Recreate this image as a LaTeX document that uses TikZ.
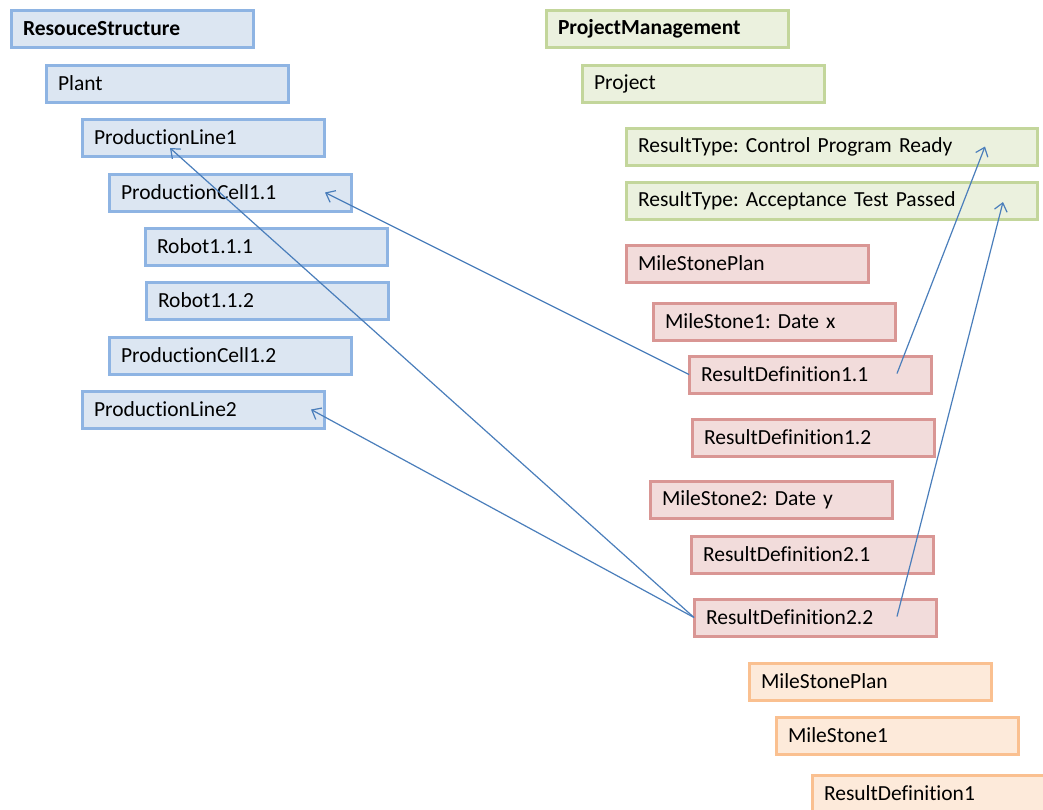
\documentclass[tikz,border=0pt]{standalone}
\usepackage{fontspec}
\setmainfont{Carlito}[Ligatures=CommonOff]
\usetikzlibrary{arrows.meta}
\frenchspacing
\definecolor{blueFill}{HTML}{DCE6F2}
\definecolor{blueLine}{HTML}{8EB4E3}
\definecolor{greenFill}{HTML}{EBF1DE}
\definecolor{greenLine}{HTML}{C3D69B}
\definecolor{redFill}{HTML}{F2DCDB}
\definecolor{redLine}{HTML}{D99694}
\definecolor{orangeFill}{HTML}{FDEADA}
\definecolor{orangeLine}{HTML}{FAC090}
\definecolor{linkBlue}{HTML}{4A7EBB}
\tikzset{
  item/.style={rectangle, line width=3pt, outer sep=0pt, anchor=north west,
    inner xsep=12pt, inner ysep=0pt, text width=#1-24pt, align=left,
    minimum height=37pt, font=\fontsize{21.5pt}{26pt}\selectfont},
  item/.default=242pt,
  res/.style={item=#1, draw=blueLine, fill=blueFill},
  res/.default=242pt,
  prj/.style={item=#1, draw=greenLine, fill=greenFill},
  prj/.default=242pt,
  msp/.style={item=#1, draw=redLine, fill=redFill},
  msp/.default=242pt,
  ora/.style={item=#1, draw=orangeLine, fill=orangeFill},
  ora/.default=242pt,
  link/.style={draw=linkBlue, line width=1.2pt, -{Straight Barb[length=8pt,width=13pt]}}
}
\begin{document}
\begin{tikzpicture}[x=1pt,y=-1pt]
\useasboundingbox (0,0) rectangle (1043,809);
\clip (0,0) rectangle (1043,809);
\fill[white] (0,0) rectangle (1043,809);

% resource structure
\node[res] (rs)   at (11,10)  {\textbf{ResouceStructure}};
\node[res] (pl)   at (46,65)  {Plant};
\node[res] (pl1)  at (82,119) {ProductionLine1};
\node[res] (pc11) at (109,174){ProductionCell1.1};
\node[res] (r111) at (145,228){Robot1.1.1};
\node[res] (r112) at (146,282){Robot1.1.2};
\node[res] (pc12) at (109,337){ProductionCell1.2};
\node[res] (pl2)  at (82,391) {ProductionLine2};

% project management
\node[prj] (pm)  at (546,10) {\textbf{ProjectManagement}};
\node[prj] (pj)  at (582,65) {Project};
\node[prj=411pt] (rtc) at (626,128) {ResultType: Control Program Ready};
\node[prj=411pt] (rta) at (626,182) {ResultType: Acceptance Test Passed};

% milestone plan
\node[msp] (mp)   at (626,245) {MileStonePlan};
\node[msp] (ms1)  at (653,303) {MileStone1: Date x};
\node[msp] (rd11) at (689,356) {ResultDefinition1.1};
\node[msp] (rd12) at (692,419) {ResultDefinition1.2};
\node[msp] (ms2)  at (650,481) {MileStone2: Date y};
\node[msp] (rd21) at (691,536) {ResultDefinition2.1};
\node[msp] (rd22) at (694,599) {ResultDefinition2.2};

% second milestone plan
\node[ora] (omp)  at (749,663) {MileStonePlan};
\node[ora] (oms1) at (776,717) {MileStone1};
\node[ora] (ord1) at (812,775) {ResultDefinition1};

% references
\draw[link] (rd11.west) -- ([xshift=-26pt]pc11.east);
\draw[link] (rd22.west) -- ([xshift=88pt,yshift=8pt]pl1.south west);
\draw[link] (rd22.west) -- ([xshift=-13pt]pl2.east);
\draw[link] ([xshift=87pt,yshift=1pt]rd11.center) -- ([xshift=-52pt]rtc.east);
\draw[link] ([xshift=82pt,yshift=1pt]rd22.center) -- ([xshift=-34pt,yshift=-1.5pt]rta.east);
\end{tikzpicture}
\end{document}
